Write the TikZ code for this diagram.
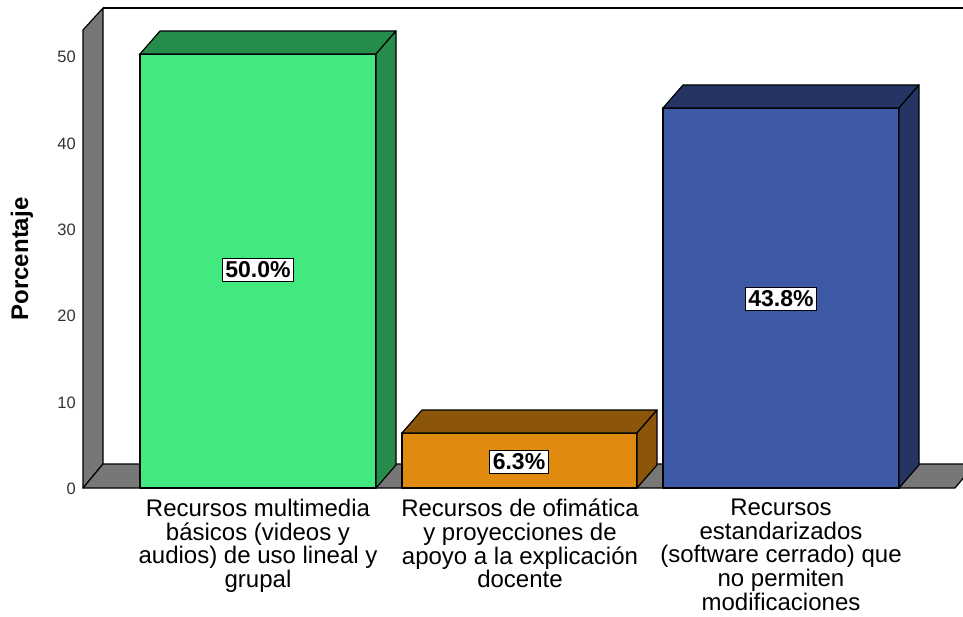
\documentclass[tikz,border=0pt]{standalone}
\usepackage{fontspec}
\setmainfont{Liberation Sans}

\definecolor{verdechiaro}{HTML}{42E97E}
\definecolor{verdescuro}{HTML}{258C4C}
\definecolor{arancio}{HTML}{E08A10}
\definecolor{arancioscuro}{HTML}{8B550A}
\definecolor{blu}{HTML}{3E5AA6}
\definecolor{bluscuro}{HTML}{263463}
\definecolor{muro}{HTML}{777777}

\tikzset{
  faccia/.style={draw=black, line width=1.2pt, line join=round},
  valore/.style={draw=black, line width=0.9pt, fill=white, inner sep=3pt,
    font=\bfseries\fontsize{23}{26}\selectfont},
  categoria/.style={align=center, anchor=north, inner sep=0pt,
    font=\fontsize{24}{23.6}\selectfont},
  tacca/.style={anchor=east, inner sep=0pt, text=black!80,
    font=\fontsize{16.5}{18}\selectfont}
}

\begin{document}
\begin{tikzpicture}[x=1pt, y=-1pt]
            \useasboundingbox (0,0) rectangle (963,617);

            \begin{scope}
            \clip (0,0) rectangle (963,617);

            %parete sinistra e pavimento
            \draw[faccia, fill=muro] (83,488) -- (83,30) -- (103,8) -- (103,464) -- cycle;
            \draw[faccia, fill=muro] (83,488) -- (103,464) -- (975,464) -- (955,488) -- cycle;
            \draw[faccia] (103,8) -- (975,8);

            %barra verde
            \draw[faccia, fill=verdechiaro] (140,488) rectangle (376,54);
            \draw[faccia, fill=verdescuro] (140,54) -- (160,31) -- (396,31) -- (376,54) -- cycle;
            \draw[faccia, fill=verdescuro] (376,488) -- (396,465) -- (396,31) -- (376,54) -- cycle;

            %barra arancio
            \draw[faccia, fill=arancio] (402,488) rectangle (637,433);
            \draw[faccia, fill=arancioscuro] (402,433) -- (422,410) -- (657,410) -- (637,433) -- cycle;
            \draw[faccia, fill=arancioscuro] (637,488) -- (657,465) -- (657,410) -- (637,433) -- cycle;

            %barra blu
            \draw[faccia, fill=blu] (663,488) rectangle (899,108);
            \draw[faccia, fill=bluscuro] (663,108) -- (683,85) -- (919,85) -- (899,108) -- cycle;
            \draw[faccia, fill=bluscuro] (899,488) -- (919,465) -- (919,85) -- (899,108) -- cycle;
            \end{scope}

            %etichette dei valori
            \node[valore] (v1) at (258,270) {50.0\%};
            \node[valore] (v2) at (519,462) {6.3\%};
            \node[valore] (v3) at (781,299) {43.8\%};

            %asse y
            \node[tacca] (t0) at (76,489) {0};
            \node[tacca] (t1) at (76,403) {10};
            \node[tacca] (t2) at (76,316) {20};
            \node[tacca] (t3) at (76,230) {30};
            \node[tacca] (t4) at (76,144) {40};
            \node[tacca] (t5) at (76,57) {50};
            \node[rotate=90, font=\bfseries\fontsize{24}{26}\selectfont] (asse) at (22,259) {Porcentaje};

            %categorie
            \node[categoria] (c1) at (258,499) {Recursos multimedia\\básicos (videos y\\audios) de uso lineal y\\grupal};
            \node[categoria] (c2) at (520,499) {Recursos de ofimática\\y proyecciones de\\apoyo a la explicación\\docente};
            \node[categoria] (c3) at (781,499) {Recursos\\estandarizados\\(software cerrado) que\\no permiten\\modificaciones};

\end{tikzpicture}
\end{document}
